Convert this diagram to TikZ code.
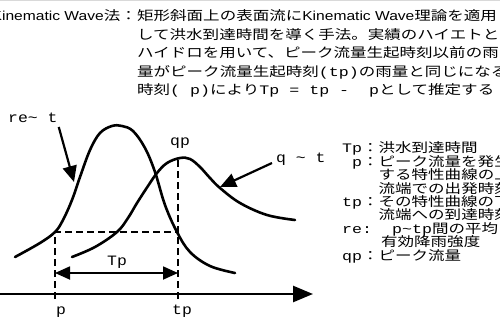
\documentclass[tikz,border=0pt]{standalone}
\usepackage{fontspec}
\usetikzlibrary{arrows.meta}
\newfontfamily\jpfont[FakeStretch=1.27]{Noto Sans CJK JP}
\newfontfamily\latfont[FakeStretch=1.2]{Liberation Sans}
\newfontfamily\monofont[FakeStretch=1.28]{Liberation Mono}
\newfontfamily\lblfont[FakeStretch=1.15]{Liberation Mono}
\newcommand{\mn}[1]{{\monofont #1}}
\newcommand{\tb}{\phantom{p}}% the tau is not printed

\begin{document}
\begin{tikzpicture}[x=1pt,y=-1pt,
  txt/.style={inner sep=0pt,anchor=base west,font=\fontsize{13}{15}\selectfont\jpfont},
  lbl/.style={inner sep=0pt,anchor=base west,font=\fontsize{14.3}{18}\selectfont\lblfont},
  curve/.style={line width=2.6pt,line join=round,line cap=round},
  dashln/.style={line width=1.5pt,dash pattern=on 7pt off 4pt},
  ptr/.style={line width=2.2pt,-{Triangle[length=16pt,width=14pt]}}]
\useasboundingbox (0,0) rectangle (500,331);
\clip (0,0) rectangle (500,331);
\draw[gray!30,line width=1.2pt] (0,0.6) -- (500,0.6);

% description
\node[txt,anchor=base east] (t0) at (137,20.9) {{\latfont Kinematic Wave}法：};
\node[txt] (t1) at (137,20.9) {矩形斜面上の表面流に{\latfont Kinematic Wave}理論を適用};
\node[txt] (t2) at (137,39.4) {して洪水到達時間を導く手法。実績のハイエトと};
\node[txt] (t3) at (137,57.9) {ハイドロを用いて、ピーク流量生起時刻以前の雨};
\node[txt] (t4) at (137,76.4) {量がピーク流量生起時刻\mn{(tp)}の雨量と同じになる};
\node[txt] (t5) at (137,94.9) {時刻\mn{(\tb p)}により\mn{Tp = tp - \tb p}として推定する};

% legend
\node[txt] (l1) at (342,152.9) {\mn{Tp}：洪水到達時間};
\node[txt] (l2) at (342,166.3) {\mn{\tb p}：ピーク流量を発生};
\node[txt] (l3) at (378.5,179.7) {する特性曲線の上};
\node[txt] (l4) at (378.5,193.1) {流端での出発時刻};
\node[txt] (l5) at (342,206.5) {\mn{tp}：その特性曲線の下};
\node[txt] (l6) at (378.5,219.9) {流端への到達時刻};
\node[txt] (l7) at (342,233.3) {\mn{re:\tb\tb p\textasciitilde tp}間の平均};
\node[txt] (l8) at (381,246.7) {有効降雨強度};
\node[txt] (l9) at (342,260.1) {\mn{qp}：ピーク流量};

% curves
\draw[curve] plot[smooth,tension=0.6] coordinates {(15,257) (40,243) (55,232) (63,220)
  (72,200) (80,177) (90,150) (100,133) (112,126) (122,126) (133,131) (145,148)
  (155,172) (165,205) (177,232) (190,252) (210,266) (235,273)};
\draw[curve] plot[smooth,tension=0.6] coordinates {(72,257) (95,247) (117,232) (128,218)
  (137,203) (148,186) (157,173) (167,163) (180,158) (190,159) (200,167) (210,178)
  (220,188) (240,203) (267,215) (295,220)};

% axis and marks
\coordinate (axL) at (-2,294);
\coordinate (axR) at (313,294);
\coordinate (pBot) at (55,299);
\coordinate (tpBot) at (178,299);
\coordinate (pMid) at (55,232);
\coordinate (tpMid) at (178,232);
\coordinate (qPeak) at (178,157);
\draw[dashln] (pBot) -- (pMid) -- (tpMid);
\draw[dashln] (tpBot) -- (qPeak);
\draw[line width=2.6pt,-{Triangle[length=20pt,width=16pt]}] (axL) -- (axR);

\coordinate (TpL) at (55,273);
\coordinate (TpR) at (178,273);
\draw[line width=1.8pt,{Triangle[length=15pt,width=13pt]}-{Triangle[length=15pt,width=13pt]}] (TpL) -- (TpR);

\node[lbl] (TpLbl) at (107,265) {Tp};
\node[lbl] (pLbl) at (56,314) {p};
\node[lbl] (tpLbl) at (172,314) {tp};
\node[lbl] (qpLbl) at (170,146) {qp};
\node[lbl] (reLbl) at (8,123) {re\textasciitilde{} t};
\node[lbl] (qLbl) at (276,163) {q \textasciitilde{} t};

\coordinate (reTip) at (74,182);
\coordinate (qTip) at (220,187);
\draw[ptr] ([shift={(1,4)}]reLbl.base east) -- (reTip);
\draw[ptr] ([shift={(-4,0)}]qLbl.base west) -- (qTip);
\end{tikzpicture}
\end{document}
